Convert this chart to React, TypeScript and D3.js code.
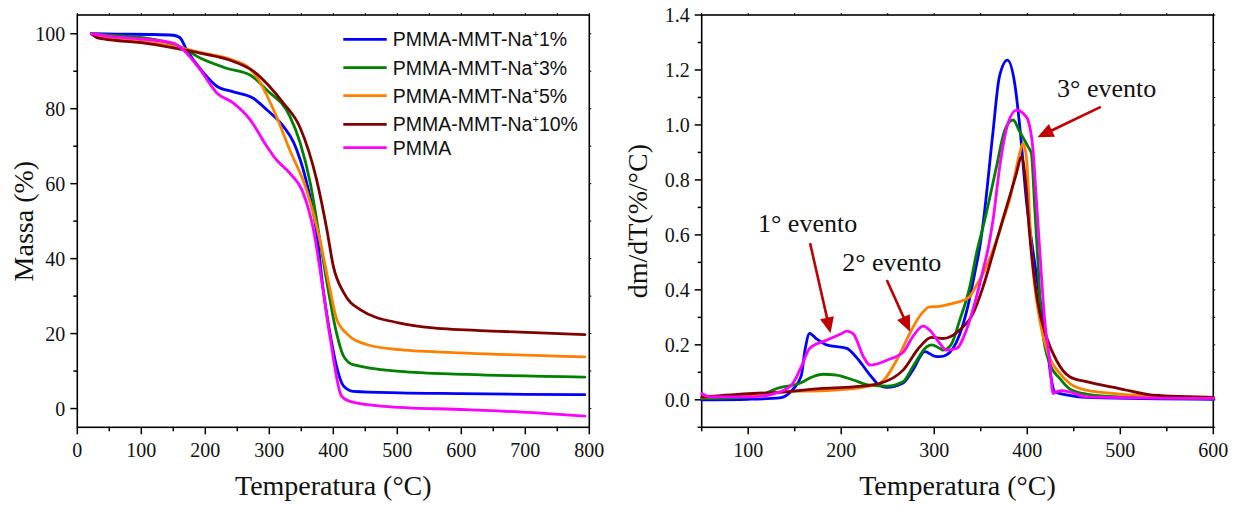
import React from 'react';
import * as d3 from 'd3';

// ---- series styling / legend ----
const seriesColors = ['#0000ff', '#008000', '#ff8000', '#800000', '#ff00ff'];
const legendBase = ['PMMA-MMT-Na', 'PMMA-MMT-Na', 'PMMA-MMT-Na', 'PMMA-MMT-Na', 'PMMA'];
const legendSup = ['+', '+', '+', '+', ''];
const legendTail = ['1%', '3%', '5%', '10%', ''];

// ---- TGA curves: [temperature °C, mass %] ----
const tgaNa1: [number, number][] = [
  [22, 100], [60, 99.9], [120, 99.8], [150, 99.6], [160, 99], [171, 95.7], [195, 90], [218, 86],
  [244, 84.5], [275, 82.8], [296, 79.7], [322, 75.3], [338, 71], [358, 60.5], [374, 47], [384, 32],
  [397, 18], [405, 11.3], [416, 6], [431, 4.6], [504, 4.2], [600, 4], [700, 3.8], [793, 3.7],
];
const tgaNa3: [number, number][] = [
  [22, 100], [60, 99.5], [120, 98.5], [160, 96.6], [192, 93.5], [233, 90.8], [270, 89], [296, 85],
  [332, 78], [348, 71], [364, 60.2], [379, 45], [392, 31.7], [405, 20.2], [416, 14], [431, 11.7],
  [504, 9.9], [608, 9.1], [793, 8.4],
];
const tgaNa5: [number, number][] = [
  [22, 100], [40, 98.9], [100, 98], [150, 96.6], [192, 95], [244, 92.9], [270, 90.6], [280, 88.6],
  [311, 78], [332, 69], [358, 58.4], [379, 45], [395, 31.7], [405, 24], [421, 20], [452, 17.1],
  [504, 15.7], [608, 14.8], [793, 13.8],
];
const tgaNa10: [number, number][] = [
  [22, 100], [30, 99], [41, 98.6], [100, 97.6], [150, 96.2], [192, 94.8], [244, 92.6], [275, 90],
  [300, 86], [322, 81.5], [348, 75], [374, 61], [390, 47.7], [400, 38], [416, 31], [442, 26.4],
  [504, 22.8], [556, 21.5], [660, 20.6], [793, 19.7],
];
const tgaPmma: [number, number][] = [
  [22, 100], [51, 99.3], [100, 98.6], [150, 97.5], [171, 94.8], [192, 90.4], [218, 84.2], [244, 81.5],
  [270, 77.1], [296, 70], [311, 66.4], [332, 62.8], [353, 57.5], [369, 47.7], [384, 31.7], [395, 19],
  [413, 3.3], [426, 1.9], [478, 0.6], [608, -0.3], [712, -1.1], [793, -2],
];

// ---- DTG curves: [temperature °C, dm/dT %/°C] ----
const dtgNa1: [number, number][] = [
  [50, 0.0], [100, 0.002], [134, 0.007], [148, 0.038], [157, 0.087], [161, 0.18], [166, 0.242],
  [173, 0.223], [184, 0.2], [206, 0.187], [216, 0.156], [231, 0.09], [241, 0.053], [249, 0.045],
  [266, 0.06], [277, 0.108], [290, 0.175], [300, 0.159], [306, 0.157], [313, 0.163], [327, 0.235],
  [336, 0.338], [343.5, 0.46], [349, 0.557], [353, 0.654], [363, 0.969], [370, 1.175], [378.7, 1.236],
  [386.5, 1.151], [392, 0.993], [399, 0.727], [406, 0.545], [413, 0.38], [420.6, 0.217], [426, 0.072],
  [429.5, 0.029], [442, 0.018], [470, 0.008], [600, 0.002],
];
const dtgNa3: [number, number][] = [
  [50, 0.005], [105, 0.011], [134, 0.044], [155.5, 0.06], [170, 0.085], [180.6, 0.093], [195, 0.09],
  [213, 0.072], [231, 0.053], [249, 0.05], [266.5, 0.066], [277, 0.12], [292, 0.193], [297, 0.2],
  [306, 0.187], [309.5, 0.181], [318, 0.2], [327.4, 0.29], [338.2, 0.411], [345.4, 0.533], [354.3, 0.654],
  [366.9, 0.848], [375.8, 0.981], [384.7, 1.018], [392, 0.975], [400.8, 0.921], [404.4, 0.897],
  [408, 0.7], [411.5, 0.5], [415.2, 0.29], [424, 0.132], [434.9, 0.078], [445.6, 0.04], [463.5, 0.021],
  [499, 0.011], [600, 0.005],
];
const dtgNa5: [number, number][] = [
  [50, 0.01], [105, 0.017], [141, 0.03], [177, 0.033], [213, 0.041], [241.5, 0.06], [259.5, 0.144],
  [273.7, 0.242], [284.5, 0.305], [295, 0.338], [306, 0.34], [320, 0.351], [327.4, 0.357], [338, 0.375],
  [345.4, 0.417], [354.3, 0.472], [363.2, 0.545], [374, 0.654], [381, 0.727], [391.9, 0.897],
  [395.4, 0.933], [399, 0.885], [404.4, 0.545], [413.4, 0.29], [422.3, 0.169], [434.9, 0.096],
  [445.6, 0.06], [463.5, 0.035], [499, 0.021], [550, 0.012], [600, 0.009],
];
const dtgNa10: [number, number][] = [
  [50, 0.01], [105, 0.023], [141, 0.029], [177, 0.041], [213, 0.047], [241.5, 0.06], [266.5, 0.108],
  [284.5, 0.193], [297, 0.227], [309.5, 0.223], [327.4, 0.254], [341.7, 0.314], [352.5, 0.411],
  [363.2, 0.533], [375.8, 0.68], [388.4, 0.824], [393.7, 0.885], [397.3, 0.824], [402.6, 0.6],
  [411.5, 0.351], [420.6, 0.229], [431.3, 0.144], [445.6, 0.084], [463.5, 0.066], [499, 0.041],
  [535, 0.017], [600, 0.009],
];
const dtgPmma: [number, number][] = [
  [50, 0.023], [59, 0.011], [105, 0.011], [134, 0.029], [148, 0.06], [157, 0.12], [166, 0.187],
  [184, 0.217], [200, 0.24], [206, 0.25], [213, 0.24], [224, 0.156], [231, 0.126], [249, 0.144],
  [267, 0.175], [277, 0.23], [288, 0.268], [295, 0.254], [306, 0.205], [313, 0.181], [324, 0.187],
  [334.6, 0.254], [343.5, 0.351], [352.5, 0.472], [358.5, 0.56], [363.2, 0.654], [370.4, 0.848],
  [379.3, 1.006], [388.4, 1.054], [397.3, 1.036], [400.8, 1.018], [406.2, 0.909], [409.8, 0.727],
  [413.4, 0.545], [418.7, 0.29], [424, 0.144], [427.7, 0.023], [431.3, 0.029], [438, 0.033],
  [445.6, 0.029], [463.5, 0.011], [600, 0.005],
];

const tgaSeries = [tgaNa1, tgaNa3, tgaNa5, tgaNa10, tgaPmma];
const dtgSeries = [dtgNa1, dtgNa3, dtgNa5, dtgNa10, dtgPmma];

// ---- axis ticks ----
const tgaXTicks = [0, 100, 200, 300, 400, 500, 600, 700, 800];
const tgaXMinor = [50, 150, 250, 350, 450, 550, 650, 750];
const tgaYTicks = [0, 20, 40, 60, 80, 100];
const tgaYMinor = [10, 30, 50, 70, 90];
const dtgXTicks = [100, 200, 300, 400, 500, 600];
const dtgXMinor = [50, 150, 250, 350, 450, 550];
const dtgYTicks = [0.0, 0.2, 0.4, 0.6, 0.8, 1.0, 1.2, 1.4];
const dtgYMinor = [-0.1, 0.1, 0.3, 0.5, 0.7, 0.9, 1.1, 1.3];

// ---- annotations: label, text anchor point, arrow tail and head (data coords) ----
const eventLabels = ['1° evento', '2° evento', '3° evento'];
const eventText: [number, number][] = [[110.5, 0.609], [201, 0.467], [432, 1.101]];
const eventArrowFrom: [number, number][] = [[166.5, 0.57], [249, 0.436], [479, 1.066]];
const eventArrowTo: [number, number][] = [[188.5, 0.242], [274, 0.248], [411, 0.955]];

const SERIF = 'Liberation Serif, Times New Roman, serif';
const SANS = 'Liberation Sans, Arial, sans-serif';
const ARROW = '#c00000';

type Scale = d3.ScaleLinear<number, number>;

function Frame({ x, y, xTicks, xMinor, yTicks, yMinor, yFmt }: {
  x: Scale; y: Scale; xTicks: number[]; xMinor: number[]; yTicks: number[]; yMinor: number[];
  yFmt: (v: number) => string;
}) {
  const [x0, x1] = x.range();
  const [y1, y0] = y.range();
  return (
    <g>
      <rect x={x0} y={y0} width={x1 - x0} height={y1 - y0} fill="none" stroke="#000" strokeWidth={1.6} />
      {xTicks.map((t) => (
        <g key={'xt' + t}>
          <line x1={x(t)} x2={x(t)} y1={y1} y2={y1 + 7} stroke="#000" strokeWidth={1.5} />
          <line x1={x(t)} x2={x(t)} y1={y0} y2={y0 - 2} stroke="#000" strokeWidth={1} />
          <text x={x(t)} y={y1 + 30} textAnchor="middle" fontFamily={SERIF} fontSize={20} fill="#111">{t}</text>
        </g>
      ))}
      {xMinor.map((t) => (
        <g key={'xm' + t}>
          <line x1={x(t)} x2={x(t)} y1={y1} y2={y1 + 4} stroke="#000" strokeWidth={1.5} />
          <line x1={x(t)} x2={x(t)} y1={y0} y2={y0 - 2} stroke="#000" strokeWidth={1} />
        </g>
      ))}
      {yTicks.map((t) => (
        <g key={'yt' + t}>
          <line x1={x0} x2={x0 - 7} y1={y(t)} y2={y(t)} stroke="#000" strokeWidth={1.5} />
          <line x1={x1} x2={x1 + 2} y1={y(t)} y2={y(t)} stroke="#000" strokeWidth={1} />
          <text x={x0 - 12} y={y(t) + 7} textAnchor="end" fontFamily={SERIF} fontSize={20} fill="#111">{yFmt(t)}</text>
        </g>
      ))}
      {yMinor.map((t) => (
        <g key={'ym' + t}>
          <line x1={x0} x2={x0 - 4} y1={y(t)} y2={y(t)} stroke="#000" strokeWidth={1.5} />
          <line x1={x1} x2={x1 + 2} y1={y(t)} y2={y(t)} stroke="#000" strokeWidth={1} />
        </g>
      ))}
    </g>
  );
}

function Arrow({ from, to }: { from: [number, number]; to: [number, number] }) {
  const dx = to[0] - from[0];
  const dy = to[1] - from[1];
  const len = Math.hypot(dx, dy);
  const ux = dx / len;
  const uy = dy / len;
  const headL = 16;
  const headW = 7;
  const bx = to[0] - ux * headL;
  const by = to[1] - uy * headL;
  const p1 = [bx - uy * headW, by + ux * headW];
  const p2 = [bx + uy * headW, by - ux * headW];
  return (
    <g>
      <line x1={from[0]} y1={from[1]} x2={bx + ux * 2} y2={by + uy * 2} stroke={ARROW} strokeWidth={2.6} />
      <polygon points={`${to[0]},${to[1]} ${p1[0]},${p1[1]} ${p2[0]},${p2[1]}`} fill={ARROW} />
    </g>
  );
}

export default function App() {
  const plotTop = 15;
  const plotBottom = 427.3;

  const xTga = d3.scaleLinear().domain([0, 800]).range([77.3, 589.3]);
  const yTga = d3.scaleLinear().domain([-5, 105]).range([plotBottom, plotTop]);
  const xDtg = d3.scaleLinear().domain([50, 600]).range([701.7, 1213.3]);
  const yDtg = d3.scaleLinear().domain([-0.1, 1.4]).range([plotBottom, plotTop]);

  const lineTga = d3.line<[number, number]>().x((d) => xTga(d[0])).y((d) => yTga(d[1])).curve(d3.curveMonotoneX);
  const lineDtg = d3.line<[number, number]>().x((d) => xDtg(d[0])).y((d) => yDtg(d[1])).curve(d3.curveMonotoneX);

  const legendX = 343.3;
  const legendRows = [39.3, 67.7, 95.7, 124.3, 147.7];

  return (
    <svg width={1243} height={507} style={{ position: 'absolute', left: 0, top: 0, background: '#fff' }}>
      <rect width={1243} height={507} fill="#fff" />

      {/* Left panel: mass loss */}
      <Frame x={xTga} y={yTga} xTicks={tgaXTicks} xMinor={tgaXMinor} yTicks={tgaYTicks} yMinor={tgaYMinor}
        yFmt={(v) => String(v)} />
      <g fill="none" strokeWidth={2.8} strokeLinejoin="round" strokeLinecap="round">
        {tgaSeries.map((s, i) => (
          <path key={i} d={lineTga(s) || ''} stroke={seriesColors[i]} />
        ))}
      </g>
      <g>
        {legendRows.map((ry, i) => (
          <g key={i}>
            <line x1={legendX} x2={legendX + 43.4} y1={ry} y2={ry} stroke={seriesColors[i]} strokeWidth={2.8} />
            <text x={legendX + 49.4} y={ry + 7} fontFamily={SANS} fontSize={19.5} fill="#111">
              {legendBase[i]}
              {legendSup[i] && (
                <tspan fontSize={11} dy={-8}>{legendSup[i]}</tspan>
              )}
              {legendTail[i] && <tspan dy={legendSup[i] ? 8 : 0}>{legendTail[i]}</tspan>}
            </text>
          </g>
        ))}
      </g>
      <text x={(77.3 + 589.3) / 2} y={495} textAnchor="middle" fontFamily={SERIF} fontSize={28} fill="#111">
        Temperatura (°C)
      </text>
      <text transform={`translate(33, ${(plotTop + plotBottom) / 2}) rotate(-90)`} textAnchor="middle"
        fontFamily={SERIF} fontSize={28} fill="#111">
        Massa (%)
      </text>

      {/* Right panel: derivative curves */}
      <Frame x={xDtg} y={yDtg} xTicks={dtgXTicks} xMinor={dtgXMinor} yTicks={dtgYTicks} yMinor={dtgYMinor}
        yFmt={(v) => v.toFixed(1)} />
      <g fill="none" strokeWidth={2.8} strokeLinejoin="round" strokeLinecap="round">
        {dtgSeries.map((s, i) => (
          <path key={i} d={lineDtg(s) || ''} stroke={seriesColors[i]} />
        ))}
      </g>
      {eventLabels.map((label, i) => (
        <g key={label}>
          <text x={xDtg(eventText[i][0])} y={yDtg(eventText[i][1])} fontFamily={SERIF} fontSize={26} fill="#111">
            {label}
          </text>
          <Arrow from={[xDtg(eventArrowFrom[i][0]), yDtg(eventArrowFrom[i][1])]}
            to={[xDtg(eventArrowTo[i][0]), yDtg(eventArrowTo[i][1])]} />
        </g>
      ))}
      <text x={(701.7 + 1213.3) / 2} y={495} textAnchor="middle" fontFamily={SERIF} fontSize={28} fill="#111">
        Temperatura (°C)
      </text>
      <text transform={`translate(647, ${(plotTop + plotBottom) / 2}) rotate(-90)`} textAnchor="middle"
        fontFamily={SERIF} fontSize={28} fill="#111">
        dm/dT(%/°C)
      </text>
    </svg>
  );
}
